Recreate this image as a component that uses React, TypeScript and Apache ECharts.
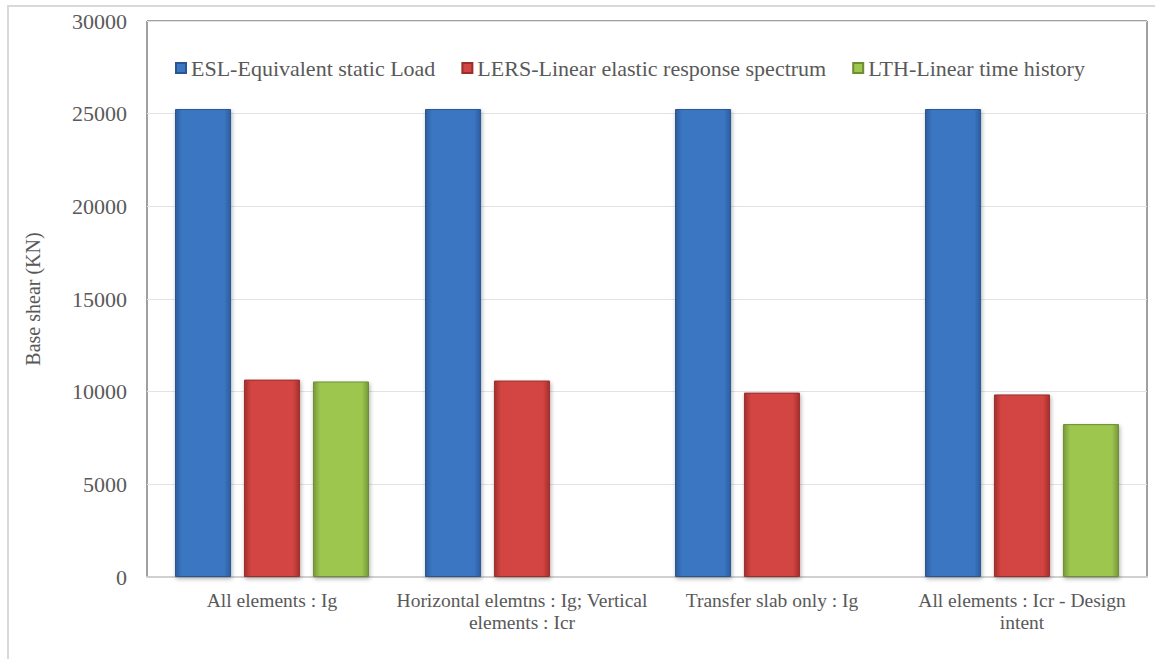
import React, { useEffect, useRef } from "react";
import * as echarts from "echarts";

const categories = [
  "All elements : Ig",
  "Horizontal elemtns : Ig; Vertical\nelements : Icr",
  "Transfer slab only : Ig",
  "All elements : Icr - Design\nintent",
];
const seriesNames = [
  "ESL-Equivalent static Load",
  "LERS-Linear elastic response spectrum",
  "LTH-Linear time history",
];
const eslValues = [25250, 25250, 25250, 25250];
const lersValues = [10650, 10600, 9950, 9850];
const lthValues: (number | null)[] = [10550, null, null, 8250];
const yTicks = { min: 0, max: 30000, interval: 5000 };

function grad(edge: string, mid: string) {
  return new echarts.graphic.LinearGradient(0, 0, 1, 0, [
    { offset: 0, color: edge },
    { offset: 0.12, color: mid },
    { offset: 0.88, color: mid },
    { offset: 1, color: edge },
  ]);
}

export default function App() {
  const ref = useRef<HTMLDivElement>(null);
  useEffect(() => {
    document.body.style.margin = "0";
    const chart = echarts.init(ref.current!, undefined, { renderer: "svg" });
    const font = "Liberation Serif";
    const colors = [
      { edge: "#2c5d9e", mid: "#3b76c3", border: "#2a5690" },
      { edge: "#a33030", mid: "#d24442", border: "#9a2e2c" },
      { edge: "#76983a", mid: "#9cc64e", border: "#6e8e34" },
    ];
    const values = [eslValues, lersValues, lthValues];
    chart.setOption({
      animation: false,
      backgroundColor: "#ffffff",
      textStyle: { fontFamily: font },
      graphic: [
        {
          type: "rect",
          z: -10,
          shape: { x: 8, y: 6, width: 1200, height: 700 },
          style: { fill: "none", stroke: "#d9d9d9", lineWidth: 2 },
          silent: true,
        },
      ],
      legend: {
        left: 170,
        top: 52,
        itemWidth: 10,
        itemHeight: 10,
        itemGap: 26,
        icon: "rect",
        textStyle: { fontFamily: font, fontSize: 22, color: "#595959" },
        data: seriesNames,
      },
      grid: {
        left: 147,
        right: 8,
        top: 21,
        bottom: 82,
        show: true,
        borderColor: "#404040",
        borderWidth: 1,
        containLabel: false,
      },
      xAxis: {
        type: "category",
        data: categories,
        axisLine: { lineStyle: { color: "#d0d0d0", width: 2 } },
        axisTick: { show: false },
        axisLabel: {
          fontFamily: font,
          fontSize: 19.5,
          color: "#595959",
          margin: 12,
          lineHeight: 22,
          interval: 0,
        },
      },
      yAxis: {
        type: "value",
        min: yTicks.min,
        max: yTicks.max,
        interval: yTicks.interval,
        name: "Base shear (KN)",
        nameLocation: "middle",
        nameGap: 104,
        nameTextStyle: { fontFamily: font, fontSize: 20, color: "#595959" },
        axisLine: { show: false },
        axisTick: { show: false },
        axisLabel: {
          fontFamily: font,
          fontSize: 22,
          color: "#595959",
          margin: 20,
          formatter: (v: number) => String(v),
        },
        splitLine: { lineStyle: { color: "#e3e3e3", width: 1 } },
      },
      series: seriesNames.map((name, i) => ({
        name,
        type: "bar",
        data: values[i],
        barGap: "23%",
        barCategoryGap: "22.4%",
        itemStyle: {
          color: grad(colors[i].edge, colors[i].mid),
          borderColor: colors[i].border,
          borderWidth: 1,
          shadowColor: "rgba(0,0,0,0.3)",
          shadowBlur: 4,
          shadowOffsetX: 1,
          shadowOffsetY: 2,
        },
      })),
    });
    return () => chart.dispose();
  }, []);
  return <div ref={ref} style={{ width: 1155, height: 659 }} />;
}
